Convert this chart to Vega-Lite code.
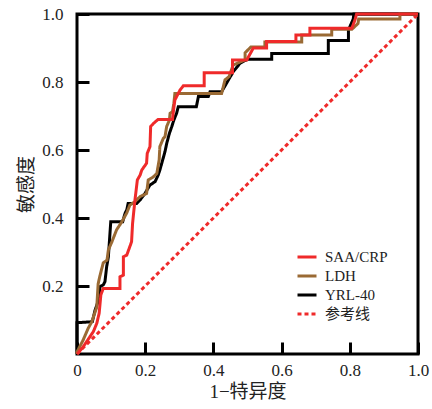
{
  "$schema": "https://vega.github.io/schema/vega-lite/v6.json",
  "width": 341,
  "height": 340,
  "autosize": {"type": "none"},
  "padding": {"left": 77, "top": 14, "right": 14, "bottom": 55},
  "config": {
    "view": {"stroke": "#000000", "strokeWidth": 3},
    "font": "Liberation Serif, Noto Sans CJK SC",
    "axis": {
      "grid": false,
      "domain": false,
      "labelFont": "Liberation Serif",
      "labelFontSize": 17,
      "labelColor": "#222222",
      "titleFont": "Liberation Serif, Noto Sans CJK SC",
      "titleFontSize": 19,
      "titleFontWeight": "normal",
      "titleColor": "#222222"
    },
    "legend": {
      "labelFont": "Liberation Serif, Noto Sans CJK SC",
      "labelFontSize": 15,
      "labelColor": "#222222",
      "symbolType": "stroke",
      "symbolSize": 361,
      "rowPadding": 0,
      "padding": 0,
      "labelOffset": 7
    }
  },
  "data": {
    "values": [
      {"s": "参考线", "i": 0, "x": 0, "y": 0},
      {"s": "参考线", "i": 1, "x": 1, "y": 1},
      {"s": "YRL-40", "i": 0, "x": 0, "y": 0},
      {"s": "YRL-40", "i": 1, "x": 0, "y": 0.092},
      {"s": "YRL-40", "i": 2, "x": 0.045, "y": 0.095},
      {"s": "YRL-40", "i": 3, "x": 0.053, "y": 0.129},
      {"s": "YRL-40", "i": 4, "x": 0.067, "y": 0.169},
      {"s": "YRL-40", "i": 5, "x": 0.067, "y": 0.198},
      {"s": "YRL-40", "i": 6, "x": 0.077, "y": 0.203},
      {"s": "YRL-40", "i": 7, "x": 0.082, "y": 0.213},
      {"s": "YRL-40", "i": 8, "x": 0.087, "y": 0.257},
      {"s": "YRL-40", "i": 9, "x": 0.092, "y": 0.286},
      {"s": "YRL-40", "i": 10, "x": 0.099, "y": 0.389},
      {"s": "YRL-40", "i": 11, "x": 0.134, "y": 0.389},
      {"s": "YRL-40", "i": 12, "x": 0.141, "y": 0.414},
      {"s": "YRL-40", "i": 13, "x": 0.146, "y": 0.424},
      {"s": "YRL-40", "i": 14, "x": 0.15, "y": 0.443},
      {"s": "YRL-40", "i": 15, "x": 0.175, "y": 0.443},
      {"s": "YRL-40", "i": 16, "x": 0.185, "y": 0.453},
      {"s": "YRL-40", "i": 17, "x": 0.199, "y": 0.472},
      {"s": "YRL-40", "i": 18, "x": 0.214, "y": 0.497},
      {"s": "YRL-40", "i": 19, "x": 0.229, "y": 0.507},
      {"s": "YRL-40", "i": 20, "x": 0.238, "y": 0.526},
      {"s": "YRL-40", "i": 21, "x": 0.243, "y": 0.541},
      {"s": "YRL-40", "i": 22, "x": 0.258, "y": 0.595},
      {"s": "YRL-40", "i": 23, "x": 0.263, "y": 0.619},
      {"s": "YRL-40", "i": 24, "x": 0.271, "y": 0.649},
      {"s": "YRL-40", "i": 25, "x": 0.278, "y": 0.669},
      {"s": "YRL-40", "i": 26, "x": 0.284, "y": 0.688},
      {"s": "YRL-40", "i": 27, "x": 0.292, "y": 0.708},
      {"s": "YRL-40", "i": 28, "x": 0.297, "y": 0.727},
      {"s": "YRL-40", "i": 29, "x": 0.35, "y": 0.727},
      {"s": "YRL-40", "i": 30, "x": 0.356, "y": 0.757},
      {"s": "YRL-40", "i": 31, "x": 0.385, "y": 0.757},
      {"s": "YRL-40", "i": 32, "x": 0.39, "y": 0.771},
      {"s": "YRL-40", "i": 33, "x": 0.424, "y": 0.771},
      {"s": "YRL-40", "i": 34, "x": 0.444, "y": 0.806},
      {"s": "YRL-40", "i": 35, "x": 0.458, "y": 0.83},
      {"s": "YRL-40", "i": 36, "x": 0.478, "y": 0.855},
      {"s": "YRL-40", "i": 37, "x": 0.5, "y": 0.867},
      {"s": "YRL-40", "i": 38, "x": 0.571, "y": 0.867},
      {"s": "YRL-40", "i": 39, "x": 0.571, "y": 0.884},
      {"s": "YRL-40", "i": 40, "x": 0.737, "y": 0.884},
      {"s": "YRL-40", "i": 41, "x": 0.737, "y": 0.922},
      {"s": "YRL-40", "i": 42, "x": 0.796, "y": 0.922},
      {"s": "YRL-40", "i": 43, "x": 0.796, "y": 0.953},
      {"s": "YRL-40", "i": 44, "x": 0.81, "y": 0.985},
      {"s": "YRL-40", "i": 45, "x": 0.812, "y": 1},
      {"s": "YRL-40", "i": 46, "x": 1, "y": 1},
      {"s": "LDH", "i": 0, "x": 0, "y": 0},
      {"s": "LDH", "i": 1, "x": 0, "y": 0.006},
      {"s": "LDH", "i": 2, "x": 0.018, "y": 0.041},
      {"s": "LDH", "i": 3, "x": 0.033, "y": 0.076},
      {"s": "LDH", "i": 4, "x": 0.043, "y": 0.094},
      {"s": "LDH", "i": 5, "x": 0.058, "y": 0.138},
      {"s": "LDH", "i": 6, "x": 0.062, "y": 0.206},
      {"s": "LDH", "i": 7, "x": 0.067, "y": 0.229},
      {"s": "LDH", "i": 8, "x": 0.077, "y": 0.268},
      {"s": "LDH", "i": 9, "x": 0.088, "y": 0.276},
      {"s": "LDH", "i": 10, "x": 0.092, "y": 0.306},
      {"s": "LDH", "i": 11, "x": 0.102, "y": 0.329},
      {"s": "LDH", "i": 12, "x": 0.116, "y": 0.365},
      {"s": "LDH", "i": 13, "x": 0.131, "y": 0.388},
      {"s": "LDH", "i": 14, "x": 0.146, "y": 0.415},
      {"s": "LDH", "i": 15, "x": 0.155, "y": 0.438},
      {"s": "LDH", "i": 16, "x": 0.17, "y": 0.448},
      {"s": "LDH", "i": 17, "x": 0.185, "y": 0.463},
      {"s": "LDH", "i": 18, "x": 0.204, "y": 0.472},
      {"s": "LDH", "i": 19, "x": 0.209, "y": 0.512},
      {"s": "LDH", "i": 20, "x": 0.224, "y": 0.521},
      {"s": "LDH", "i": 21, "x": 0.234, "y": 0.531},
      {"s": "LDH", "i": 22, "x": 0.241, "y": 0.571},
      {"s": "LDH", "i": 23, "x": 0.243, "y": 0.61},
      {"s": "LDH", "i": 24, "x": 0.253, "y": 0.634},
      {"s": "LDH", "i": 25, "x": 0.258, "y": 0.639},
      {"s": "LDH", "i": 26, "x": 0.263, "y": 0.669},
      {"s": "LDH", "i": 27, "x": 0.271, "y": 0.688},
      {"s": "LDH", "i": 28, "x": 0.273, "y": 0.708},
      {"s": "LDH", "i": 29, "x": 0.28, "y": 0.713},
      {"s": "LDH", "i": 30, "x": 0.284, "y": 0.737},
      {"s": "LDH", "i": 31, "x": 0.287, "y": 0.766},
      {"s": "LDH", "i": 32, "x": 0.424, "y": 0.766},
      {"s": "LDH", "i": 33, "x": 0.434, "y": 0.806},
      {"s": "LDH", "i": 34, "x": 0.446, "y": 0.816},
      {"s": "LDH", "i": 35, "x": 0.458, "y": 0.85},
      {"s": "LDH", "i": 36, "x": 0.493, "y": 0.865},
      {"s": "LDH", "i": 37, "x": 0.493, "y": 0.886},
      {"s": "LDH", "i": 38, "x": 0.51, "y": 0.903},
      {"s": "LDH", "i": 39, "x": 0.551, "y": 0.903},
      {"s": "LDH", "i": 40, "x": 0.551, "y": 0.918},
      {"s": "LDH", "i": 41, "x": 0.659, "y": 0.918},
      {"s": "LDH", "i": 42, "x": 0.659, "y": 0.938},
      {"s": "LDH", "i": 43, "x": 0.747, "y": 0.938},
      {"s": "LDH", "i": 44, "x": 0.747, "y": 0.955},
      {"s": "LDH", "i": 45, "x": 0.806, "y": 0.955},
      {"s": "LDH", "i": 46, "x": 0.824, "y": 0.972},
      {"s": "LDH", "i": 47, "x": 0.826, "y": 0.985},
      {"s": "LDH", "i": 48, "x": 0.947, "y": 0.985},
      {"s": "LDH", "i": 49, "x": 0.947, "y": 1},
      {"s": "LDH", "i": 50, "x": 1, "y": 1},
      {"s": "SAA/CRP", "i": 0, "x": 0, "y": 0},
      {"s": "SAA/CRP", "i": 1, "x": 0.004, "y": 0.004},
      {"s": "SAA/CRP", "i": 2, "x": 0.018, "y": 0.021},
      {"s": "SAA/CRP", "i": 3, "x": 0.048, "y": 0.066},
      {"s": "SAA/CRP", "i": 4, "x": 0.058, "y": 0.09},
      {"s": "SAA/CRP", "i": 5, "x": 0.065, "y": 0.12},
      {"s": "SAA/CRP", "i": 6, "x": 0.07, "y": 0.174},
      {"s": "SAA/CRP", "i": 7, "x": 0.077, "y": 0.193},
      {"s": "SAA/CRP", "i": 8, "x": 0.126, "y": 0.193},
      {"s": "SAA/CRP", "i": 9, "x": 0.126, "y": 0.227},
      {"s": "SAA/CRP", "i": 10, "x": 0.136, "y": 0.232},
      {"s": "SAA/CRP", "i": 11, "x": 0.136, "y": 0.286},
      {"s": "SAA/CRP", "i": 12, "x": 0.146, "y": 0.291},
      {"s": "SAA/CRP", "i": 13, "x": 0.16, "y": 0.33},
      {"s": "SAA/CRP", "i": 14, "x": 0.163, "y": 0.384},
      {"s": "SAA/CRP", "i": 15, "x": 0.167, "y": 0.424},
      {"s": "SAA/CRP", "i": 16, "x": 0.17, "y": 0.453},
      {"s": "SAA/CRP", "i": 17, "x": 0.177, "y": 0.512},
      {"s": "SAA/CRP", "i": 18, "x": 0.185, "y": 0.526},
      {"s": "SAA/CRP", "i": 19, "x": 0.19, "y": 0.541},
      {"s": "SAA/CRP", "i": 20, "x": 0.204, "y": 0.561},
      {"s": "SAA/CRP", "i": 21, "x": 0.206, "y": 0.59},
      {"s": "SAA/CRP", "i": 22, "x": 0.214, "y": 0.61},
      {"s": "SAA/CRP", "i": 23, "x": 0.216, "y": 0.669},
      {"s": "SAA/CRP", "i": 24, "x": 0.224, "y": 0.678},
      {"s": "SAA/CRP", "i": 25, "x": 0.238, "y": 0.69},
      {"s": "SAA/CRP", "i": 26, "x": 0.28, "y": 0.69},
      {"s": "SAA/CRP", "i": 27, "x": 0.282, "y": 0.708},
      {"s": "SAA/CRP", "i": 28, "x": 0.287, "y": 0.747},
      {"s": "SAA/CRP", "i": 29, "x": 0.302, "y": 0.776},
      {"s": "SAA/CRP", "i": 30, "x": 0.312, "y": 0.789},
      {"s": "SAA/CRP", "i": 31, "x": 0.373, "y": 0.789},
      {"s": "SAA/CRP", "i": 32, "x": 0.373, "y": 0.827},
      {"s": "SAA/CRP", "i": 33, "x": 0.456, "y": 0.827},
      {"s": "SAA/CRP", "i": 34, "x": 0.456, "y": 0.865},
      {"s": "SAA/CRP", "i": 35, "x": 0.498, "y": 0.865},
      {"s": "SAA/CRP", "i": 36, "x": 0.517, "y": 0.9},
      {"s": "SAA/CRP", "i": 37, "x": 0.556, "y": 0.9},
      {"s": "SAA/CRP", "i": 38, "x": 0.556, "y": 0.919},
      {"s": "SAA/CRP", "i": 39, "x": 0.642, "y": 0.919},
      {"s": "SAA/CRP", "i": 40, "x": 0.642, "y": 0.938},
      {"s": "SAA/CRP", "i": 41, "x": 0.683, "y": 0.938},
      {"s": "SAA/CRP", "i": 42, "x": 0.683, "y": 0.958},
      {"s": "SAA/CRP", "i": 43, "x": 0.806, "y": 0.958},
      {"s": "SAA/CRP", "i": 44, "x": 0.815, "y": 0.982},
      {"s": "SAA/CRP", "i": 45, "x": 0.82, "y": 1},
      {"s": "SAA/CRP", "i": 46, "x": 1, "y": 1}
    ]
  },
  "mark": {"type": "line", "strokeJoin": "miter"},
  "encoding": {
    "x": {
      "field": "x",
      "type": "quantitative",
      "scale": {"domain": [0, 1], "nice": false, "zero": false},
      "axis": {
        "title": "1−特异度",
        "values": [0, 0.2, 0.4, 0.6, 0.8, 1],
        "labelExpr": "datum.value == 0 ? '0' : format(datum.value, '.1f')",
        "ticks": true,
        "tickSize": 12,
        "tickWidth": 3,
        "tickColor": "#000000",
        "tickOpacity": 1,
        "offset": -12,
        "labelPadding": 8,
        "titlePadding": 4,
        "labelFlush": false
      }
    },
    "y": {
      "field": "y",
      "type": "quantitative",
      "scale": {"domain": [0, 1], "nice": false, "zero": false},
      "axis": {
        "title": "敏感度",
        "values": [0.2, 0.4, 0.6, 0.8, 1],
        "format": ".1f",
        "ticks": true,
        "tickSize": 12,
        "tickWidth": 3,
        "tickColor": "#000000",
        "tickOpacity": 1,
        "offset": -12,
        "labelPadding": 14,
        "titlePadding": 5,
        "labelFlush": false
      }
    },
    "order": {"field": "i", "type": "quantitative"},
    "color": {
      "field": "s",
      "type": "nominal",
      "scale": {
        "domain": ["SAA/CRP", "LDH", "YRL-40", "参考线"],
        "range": ["#ef2a2a", "#9a6a34", "#000000", "#ef2a2a"]
      },
      "legend": {"title": null, "orient": "none", "legendX": 219, "legendY": 232}
    },
    "strokeDash": {
      "field": "s",
      "type": "nominal",
      "scale": {
        "domain": ["SAA/CRP", "LDH", "YRL-40", "参考线"],
        "range": [[1, 0], [1, 0], [1, 0], [4, 3]]
      },
      "legend": {"title": null, "orient": "none", "legendX": 219, "legendY": 232}
    },
    "strokeWidth": {
      "field": "s",
      "type": "nominal",
      "scale": {
        "domain": ["SAA/CRP", "LDH", "YRL-40", "参考线"],
        "range": [3, 3, 3, 1.5]
      },
      "legend": {"title": null, "orient": "none", "legendX": 219, "legendY": 232}
    }
  }
}
